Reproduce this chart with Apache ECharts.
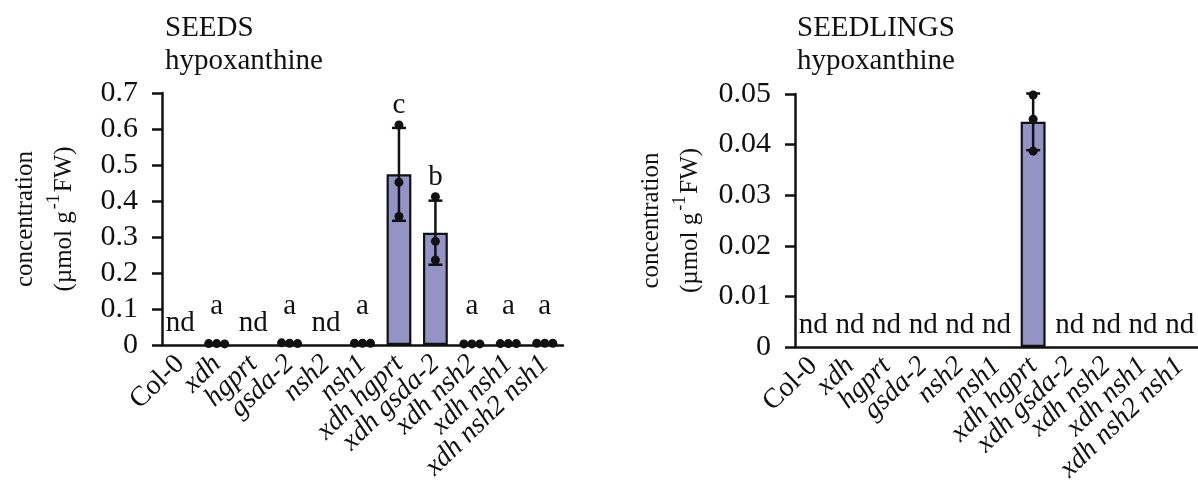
<!DOCTYPE html>
<html><head><meta charset="utf-8">
<script src="https://cdn.jsdelivr.net/npm/echarts@6/dist/echarts.min.js"></script>
<style>html,body{margin:0;padding:0;background:#fff}#c{width:1198px;height:490px}</style>
</head><body><div id="c"></div>
<script>
const categories = ['Col-0','xdh','hgprt','gsda-2','nsh2','nsh1','xdh hgprt','xdh gsda-2','xdh nsh2','xdh nsh1','xdh nsh2 nsh1'];
const italicCat = [false,true,true,true,true,true,true,true,true,true,true];

// SEEDS
const seedsMean = [null, 0.004, null, 0.005, null, 0.005, 0.474, 0.312, 0.003, 0.004, 0.005];
const seedsSD   = [null, 0.001, null, 0.001, null, 0.001, 0.129, 0.089, 0.001, 0.001, 0.001];
const seedsPoints = [[], [0.004,0.004,0.003], [], [0.006,0.005,0.004], [], [0.005,0.005,0.005],
  [0.611,0.452,0.357], [0.412,0.288,0.236], [0.003,0.003,0.003], [0.004,0.004,0.004], [0.005,0.005,0.005]];
const seedsLetters = ['nd','a','nd','a','nd','a','c','b','a','a','a'];
const seedsTicks = [0,0.1,0.2,0.3,0.4,0.5,0.6,0.7];

// SEEDLINGS
const seedlingsMean = [null,null,null,null,null,null,0.0445,null,null,null,null];
const seedlingsSD   = [null,null,null,null,null,null,0.0056,null,null,null,null];
const seedlingsPoints = [[],[],[],[],[],[],[0.0498,0.0450,0.0387],[],[],[],[]];
const seedlingsLetters = ['nd','nd','nd','nd','nd','nd','','nd','nd','nd','nd'];
const seedlingsTicks = [0,0.01,0.02,0.03,0.04,0.05];

const FONT = '"Liberation Serif","Times New Roman",serif';
const INK = '#111111';
const BAR = '#9393c5';

function catLabel(v){ const i = categories.indexOf(v); return italicCat[i] ? '{i|'+v+'}' : '{n|'+v+'}'; }

function errRender(meanArr, sdArr, ptsArr){
  return function(params, api){
    const i = api.value(0);
    const m = meanArr[i], sd = sdArr[i], pts = ptsArr[i];
    if (m == null) return {type:'group', children:[]};
    const children = [];
    const x = api.coord([i, 0])[0];
    const yTop = api.coord([i, m+sd])[1], yBot = api.coord([i, m-sd])[1];
    if (Math.abs(yBot - yTop) > 4) {
      const ls = {stroke: INK, lineWidth: 2.5};
      children.push({type:'line', shape:{x1:x,y1:yTop,x2:x,y2:yBot}, style:ls});
      children.push({type:'line', shape:{x1:x-7,y1:yTop,x2:x+7,y2:yTop}, style:ls});
      children.push({type:'line', shape:{x1:x-7,y1:yBot,x2:x+7,y2:yBot}, style:ls});
    }
    const ys = pts.map(p => api.coord([i, p])[1]);
    const spread = Math.max(...ys) - Math.min(...ys) < 8;
    const offs = spread ? [-8, 0, 8] : [0, 0, 0];
    ys.forEach((y, k) => children.push({type:'circle', shape:{cx:x+offs[k], cy:y, r:4.5}, style:{fill: INK}}));
    return {type:'group', children};
  };
}

function letterRender(meanArr, sdArr, ptsArr, letters){
  return function(params, api){
    const i = api.value(0);
    const t = letters[i];
    if (!t) return {type:'group', children:[]};
    const x = api.coord([i, 0])[0];
    const y0 = api.coord([i, 0])[1];
    let base;
    if (t === 'nd') base = y0 - 13;
    else {
      const m = meanArr[i], sd = sdArr[i] || 0;
      const top = Math.max(m + sd, ...ptsArr[i]);
      base = Math.min(api.coord([i, top])[1] - 11, y0 - 30);
    }
    return {type:'text', style:{text:t, x:x, y:base + 6, textAlign:'center', textVerticalAlign:'bottom',
      font:'29px ' + FONT, fill: INK}};
  };
}

function xAxisCfg(gi){
  return {type:'category', gridIndex:gi, data:categories, boundaryGap:true,
    axisLine:{lineStyle:{color:INK, width:2.5}},
    axisTick:{alignWithLabel:true, length:10, lineStyle:{color:INK, width:2.5}},
    axisLabel:{rotate:44, margin:15, interval:0, formatter:catLabel,
      rich:{i:{fontFamily:FONT, fontStyle:'italic', fontSize:28, color:INK},
            n:{fontFamily:FONT, fontSize:28, color:INK}}}};
}
function yAxisCfg(gi, ticks, gap){
  const step = ticks[1]-ticks[0];
  const dec = step < 0.1 ? 2 : 1;
  return {type:'value', gridIndex:gi, min:ticks[0], max:ticks[ticks.length-1], interval:step,
    axisLine:{show:true, lineStyle:{color:INK, width:2.5}},
    axisTick:{show:true, length:10, lineStyle:{color:INK, width:2.5}},
    splitLine:{show:false},
    axisLabel:{margin:24, fontFamily:FONT, fontSize:30, color:INK,
      formatter: v => v === 0 ? '0' : v.toFixed(dec)},
    name:'{a|concentration}\n{a|(µmol g}{s|-1}{a|FW)}', nameLocation:'middle', nameGap:gap, nameRotate:90,
    nameTextStyle:{fontFamily:FONT, color:INK, lineHeight:39,
      rich:{a:{fontFamily:FONT, fontSize:25, color:INK, lineHeight:39},
            s:{fontFamily:FONT, fontSize:18, color:INK, verticalAlign:'top', lineHeight:39, padding:[0,2,12,2]}}}};
}

function makeSeries(gi, mean, sd, pts, letters){
  return [
    {type:'bar', xAxisIndex:gi, yAxisIndex:gi, data:mean, barWidth:'68%',
      itemStyle:{color:BAR, borderColor:INK, borderWidth:2.2}, z:2},
    {type:'custom', xAxisIndex:gi, yAxisIndex:gi, data:categories.map((c,i)=>[i,0]), encode:{x:0,y:1},
      renderItem:errRender(mean, sd, pts), z:4},
    {type:'custom', xAxisIndex:gi, yAxisIndex:gi, data:categories.map((c,i)=>[i,0]), encode:{x:0,y:1},
      renderItem:letterRender(mean, sd, pts, letters), z:5}
  ];
}

const chart = echarts.init(document.getElementById('c'), null, {renderer:'canvas'});
chart.setOption({
  animation:false,
  backgroundColor:'#fff',
  title:[
    {text:'SEEDS\nhypoxanthine', left:160, top:7, textStyle:{fontFamily:FONT, fontSize:29, fontWeight:'normal', color:INK, lineHeight:33}},
    {text:'SEEDLINGS\nhypoxanthine', left:792, top:7, textStyle:{fontFamily:FONT, fontSize:29, fontWeight:'normal', color:INK, lineHeight:33}}
  ],
  grid:[
    {left:162, top:93, width:401, height:252},
    {left:795, top:94, width:405, height:253}
  ],
  xAxis:[xAxisCfg(0), xAxisCfg(1)],
  yAxis:[yAxisCfg(0, seedsTicks, 78), yAxisCfg(1, seedlingsTicks, 85)],
  series:[].concat(
    makeSeries(0, seedsMean, seedsSD, seedsPoints, seedsLetters),
    makeSeries(1, seedlingsMean, seedlingsSD, seedlingsPoints, seedlingsLetters))
});
</script></body></html>
